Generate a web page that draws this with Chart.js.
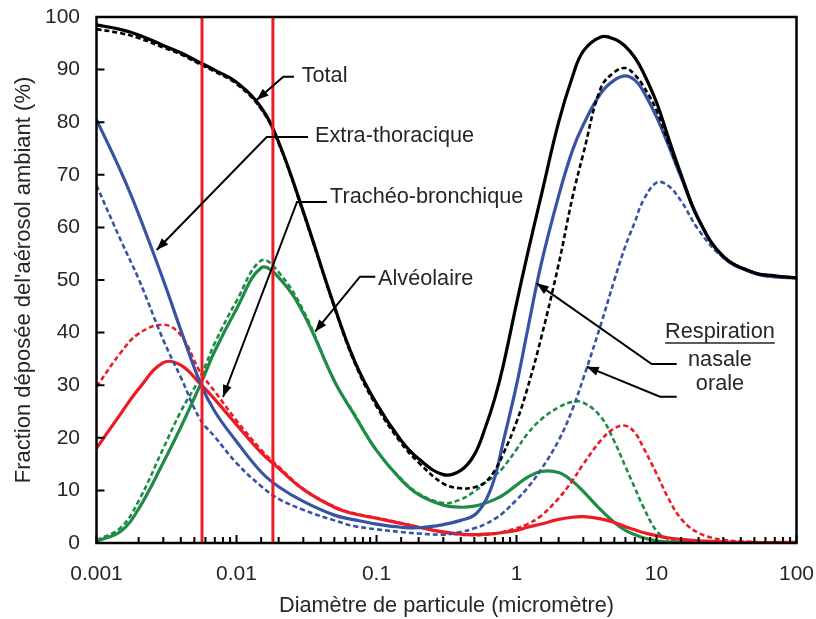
<!DOCTYPE html>
<html>
<head>
<meta charset="utf-8">
<script src="https://cdn.jsdelivr.net/npm/chart.js@4.4.0/dist/chart.umd.min.js"></script>
<style>
  html, body { margin: 0; padding: 0; background: #fff; }
  canvas { display: block; }
</style>
</head>
<body>
<canvas id="depositionChart" width="816" height="619"></canvas>
<script>
// particle diameter (micrometre)
const diameters = [0.001, 0.0015, 0.002, 0.003, 0.004, 0.0055, 0.007, 0.01, 0.015, 0.02, 0.03, 0.05, 0.07, 0.1, 0.15, 0.2, 0.3, 0.4, 0.5, 0.6, 0.7, 0.8, 1, 1.2, 1.5, 2, 2.5, 3, 4, 5, 6, 7, 8, 10, 12, 15, 20, 30, 50, 70, 100];

// deposited fraction (%) - nasal / oral breathing
const totalNasal = [98.5, 97.6, 96.6, 94.6, 93.2, 91.3, 89.9, 87.6, 82.8, 76.2, 63.0, 45.0, 34.5, 26.5, 19.5, 16.0, 13.0, 13.8, 16.8, 22.0, 27.5, 33.5, 45.5, 55.0, 66.0, 80.0, 88.5, 93.5, 96.2, 95.8, 94.4, 92.3, 89.6, 83.8, 77.5, 70.0, 61.5, 54.5, 51.4, 50.8, 50.4];
const totalOral = [97.7, 96.9, 96.0, 94.2, 92.9, 91.0, 89.6, 87.3, 82.5, 76.0, 62.8, 44.8, 34.2, 26.0, 19.0, 15.3, 11.3, 10.4, 10.6, 11.6, 13.8, 16.8, 23.0, 29.5, 39.0, 53.0, 65.5, 74.0, 86.5, 89.5, 90.3, 89.0, 87.0, 82.3, 76.5, 69.8, 61.5, 54.5, 51.4, 50.8, 50.4];
const extraThoracicNasal = [80.5, 70.5, 62.5, 50.0, 40.5, 30.5, 25.0, 19.3, 13.5, 10.7, 7.9, 5.3, 4.4, 3.6, 3.0, 2.9, 3.5, 4.3, 5.3, 8.0, 12.5, 19.0, 30.0, 40.5, 53.0, 66.0, 74.5, 79.5, 85.5, 88.0, 88.8, 88.0, 86.0, 81.0, 76.0, 69.5, 61.5, 54.3, 51.3, 50.6, 50.4];
const extraThoracicOral = [68.0, 57.4, 50.2, 38.6, 31.5, 23.5, 20.2, 15.2, 10.8, 8.4, 6.3, 4.3, 3.2, 2.6, 2.1, 1.8, 1.6, 2.1, 2.8, 3.6, 4.6, 5.7, 8.2, 10.5, 14.0, 19.5, 25.3, 31.3, 41.5, 50.0, 56.5, 61.0, 65.0, 68.5, 68.0, 65.0, 59.5, 54.3, 51.3, 50.6, 50.4];
const tracheoBronchialNasal = [18.0, 24.7, 29.3, 34.3, 33.8, 30.3, 27.3, 22.5, 17.2, 14.2, 10.2, 6.8, 5.5, 4.7, 3.7, 3.0, 2.1, 1.7, 1.6, 1.7, 1.8, 2.0, 2.4, 3.0, 3.6, 4.5, 4.9, 5.0, 4.6, 3.9, 3.1, 2.5, 2.0, 1.4, 1.0, 0.7, 0.4, 0.2, 0.1, 0.1, 0.1];
const tracheoBronchialOral = [29.7, 36.3, 39.8, 41.5, 39.5, 32.5, 28.8, 23.3, 17.7, 14.5, 10.3, 6.9, 5.6, 4.8, 3.8, 3.0, 2.0, 1.6, 1.5, 1.6, 1.8, 2.1, 2.8, 3.6, 5.2, 8.5, 11.8, 15.0, 19.5, 21.8, 22.3, 21.0, 18.3, 13.2, 8.8, 4.6, 1.9, 0.6, 0.2, 0.1, 0.1];
const alveolarNasal = [0.3, 2.3, 6.5, 15.3, 22.0, 30.0, 36.5, 44.5, 52.3, 50.5, 43.7, 30.8, 24.2, 17.6, 12.0, 9.2, 7.2, 6.8, 7.0, 7.6, 8.3, 9.1, 11.0, 12.5, 13.6, 13.4, 11.8, 9.8, 6.3, 3.9, 2.4, 1.6, 1.0, 0.4, 0.2, 0.1, 0.05, 0, 0, 0, 0];
const alveolarOral = [0.5, 3.0, 8.0, 18.0, 25.0, 31.5, 38.0, 46.0, 53.7, 51.5, 44.2, 30.8, 24.4, 17.6, 12.2, 9.4, 7.6, 8.3, 9.8, 11.5, 12.8, 14.3, 17.8, 20.8, 23.5, 25.8, 26.8, 26.7, 24.0, 19.3, 14.5, 10.5, 7.0, 2.3, 0.8, 0.2, 0.05, 0, 0, 0, 0];

// red region boundaries (micrometre)
const boundaries = [0.00567, 0.0182];

const xTickLabels = ['0.001', '0.01', '0.1', '1', '10', '100'];
const yTickLabels = ['0', '10', '20', '30', '40', '50', '60', '70', '80', '90', '100'];

const BLACK = '#000000';
const BLUE = '#3953a4';
const GREEN = '#1f8b47';
const RED = '#ed1c24';
const TEXT = '#262626';
const FONT = "'Liberation Sans', Arial, sans-serif";

const toPoints = (ys) => diameters.map((d, i) => ({ x: d, y: ys[i] }));

function curve(ys, color, dashed) {
    return {
        data: toPoints(ys),
        borderColor: color,
        borderWidth: dashed ? 2.6 : 3.2,
        borderDash: dashed ? [5, 3] : [],
        pointRadius: 0,
        fill: false,
        tension: 0.4,
        order: 1
    };
}

const boundaryLines = boundaries.map(b => ({
    data: [{ x: b, y: 0 }, { x: b, y: 100 }],
    borderColor: RED,
    borderWidth: 3,
    pointRadius: 0,
    fill: false,
    order: 0
}));

// callout texts and leader lines, in data units (diameter, %)
const callouts = [
    { label: 'Total', at: [0.0292, 87.6], leader: [[0.02576, 88.65], [0.02159, 88.65], [0.01394, 84.2]] },
    { label: 'Extra-thoracique', at: [0.0364, 76.3], leader: [[0.03242, 77.19], [0.01643, 77.19], [0.00269, 55.7]] },
    { label: 'Trachéo-bronchique', at: [0.0466, 64.6], leader: [[0.0443, 64.83], [0.02705, 64.83], [0.00801, 27.76]] },
    { label: 'Alvéolaire', at: [0.1025, 49.0], leader: [[0.098, 50.63], [0.0762, 50.63], [0.0364, 40.17]] },
    { label: 'nasale', at: [28.4, 33.7], center: true, leader: [[13.94, 34.03], [9.24, 34.03], [1.394, 49.37]] },
    { label: 'orale', at: [28.4, 29.0], center: true, leader: [[13.94, 27.81], [10.59, 27.81], [3.17, 33.52]] }
];
const legendTitle = { label: 'Respiration', at: [28.4, 38.9] };

const decorPlugin = {
    id: 'decor',
    afterDraw(chart) {
        const { ctx, chartArea, scales } = chart;
        const xs = scales.x, ys = scales.y;
        const px = (v) => xs.getPixelForValue(v);
        const py = (v) => ys.getPixelForValue(v);
        ctx.save();

        // frame
        ctx.strokeStyle = BLACK;
        ctx.lineWidth = 2.5;
        ctx.strokeRect(chartArea.left, chartArea.top, chartArea.right - chartArea.left, chartArea.bottom - chartArea.top);

        // inward tick marks
        ctx.lineWidth = 2;
        ctx.beginPath();
        xs.ticks.forEach(t => {
            const lg = Math.log10(t.value);
            const major = Math.abs(lg - Math.round(lg)) < 1e-6;
            const x = px(t.value);
            ctx.moveTo(x, chartArea.bottom);
            ctx.lineTo(x, chartArea.bottom - (major ? 8 : 6));
        });
        ys.ticks.forEach(t => {
            const y = py(t.value);
            ctx.moveTo(chartArea.left, y);
            ctx.lineTo(chartArea.left + 8, y);
        });
        ctx.stroke();

        // callouts
        ctx.font = '21.7px ' + FONT;
        ctx.textBaseline = 'alphabetic';
        callouts.forEach(c => {
            const pts = c.leader.map(p => [px(p[0]), py(p[1])]);
            ctx.strokeStyle = BLACK;
            ctx.lineWidth = 2;
            ctx.beginPath();
            pts.forEach((p, i) => (i ? ctx.lineTo(p[0], p[1]) : ctx.moveTo(p[0], p[1])));
            ctx.stroke();
            const [tx, ty] = pts[pts.length - 1];
            const [fx, fy] = pts[pts.length - 2];
            const a = Math.atan2(ty - fy, tx - fx);
            ctx.fillStyle = BLACK;
            ctx.beginPath();
            ctx.moveTo(tx, ty);
            ctx.lineTo(tx - 12 * Math.cos(a) + 4.5 * Math.sin(a), ty - 12 * Math.sin(a) - 4.5 * Math.cos(a));
            ctx.lineTo(tx - 12 * Math.cos(a) - 4.5 * Math.sin(a), ty - 12 * Math.sin(a) + 4.5 * Math.cos(a));
            ctx.closePath();
            ctx.fill();
            ctx.fillStyle = TEXT;
            ctx.textAlign = c.center ? 'center' : 'left';
            ctx.fillText(c.label, px(c.at[0]), py(c.at[1]));
        });

        // "Respiration" heading, underlined
        ctx.textAlign = 'center';
        ctx.fillStyle = TEXT;
        const hx = px(legendTitle.at[0]), hy = py(legendTitle.at[1]);
        ctx.fillText(legendTitle.label, hx, hy);
        const w = ctx.measureText(legendTitle.label).width;
        ctx.strokeStyle = TEXT;
        ctx.lineWidth = 1.5;
        ctx.beginPath();
        ctx.moveTo(hx - w / 2, hy + 4.5);
        ctx.lineTo(hx + w / 2, hy + 4.5);
        ctx.stroke();

        ctx.restore();
    }
};

new Chart(document.getElementById('depositionChart'), {
    type: 'line',
    data: {
        datasets: [
            ...boundaryLines,
            curve(totalNasal, BLACK, false),
            curve(totalOral, BLACK, true),
            curve(extraThoracicNasal, BLUE, false),
            curve(extraThoracicOral, BLUE, true),
            curve(tracheoBronchialNasal, RED, false),
            curve(tracheoBronchialOral, RED, true),
            curve(alveolarNasal, GREEN, false),
            curve(alveolarOral, GREEN, true)
        ]
    },
    options: {
        responsive: false,
        animation: false,
        events: [],
        layout: { padding: { top: 17, right: 19.5, bottom: 0, left: 0 } },
        plugins: { legend: { display: false }, tooltip: { enabled: false } },
        scales: {
            x: {
                type: 'logarithmic',
                min: 0.001,
                max: 100,
                grid: { display: false, drawTicks: false },
                border: { display: false },
                afterFit: (scale) => {
                    scale.height = 76;
                    scale.paddingLeft = 0;
                    scale.paddingRight = 0;
                },
                ticks: {
                    autoSkip: false,
                    maxRotation: 0,
                    padding: 19,
                    color: TEXT,
                    font: { family: FONT, size: 21 },
                    callback: (value) => {
                        const lg = Math.log10(value);
                        return Math.abs(lg - Math.round(lg)) < 1e-6 ? xTickLabels[Math.round(lg) + 3] : '';
                    }
                },
                title: {
                    display: true,
                    text: 'Diamètre de particule (micromètre)',
                    color: TEXT,
                    font: { family: FONT, size: 21.7 },
                    padding: { top: 0, bottom: 0 }
                }
            },
            y: {
                min: 0,
                max: 100,
                grid: { display: false, drawTicks: false },
                border: { display: false },
                afterFit: (scale) => {
                    scale.width = 96.5;
                    scale.paddingTop = 0;
                    scale.paddingBottom = 0;
                },
                ticks: {
                    stepSize: 10,
                    padding: 16.5,
                    color: TEXT,
                    font: { family: FONT, size: 21 },
                    callback: (value) => yTickLabels[Math.round(value / 10)]
                },
                title: {
                    display: true,
                    text: "Fraction déposée del'aérosol ambiant (%)",
                    color: TEXT,
                    font: { family: FONT, size: 22 },
                    padding: { top: 11, bottom: 0 }
                }
            }
        }
    },
    plugins: [decorPlugin]
});
</script>
</body>
</html>
